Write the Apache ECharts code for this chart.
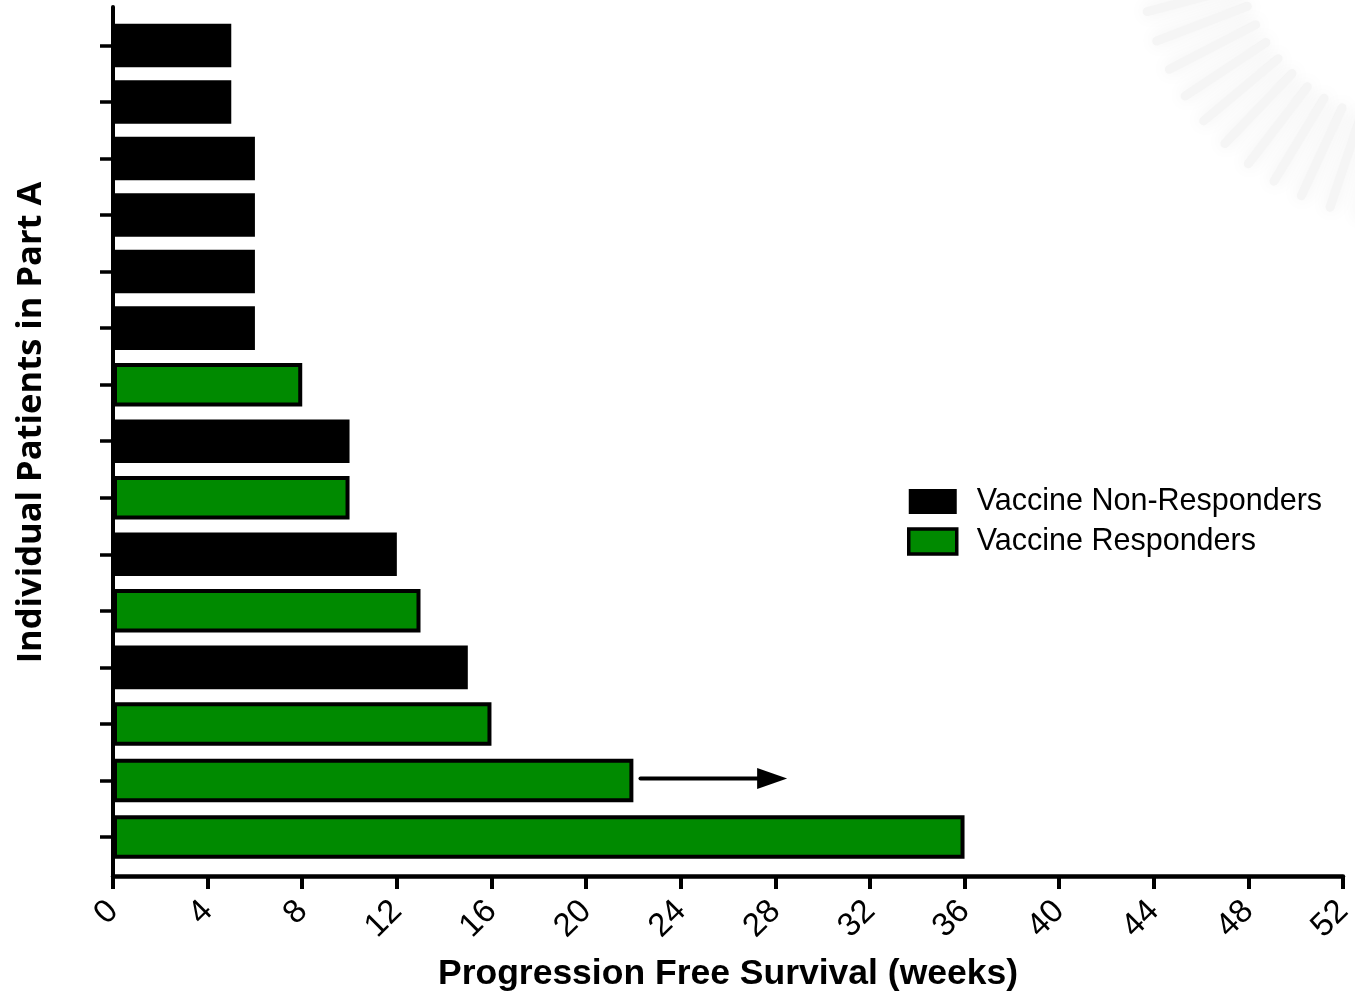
<!DOCTYPE html>
<html>
<head>
<meta charset="utf-8">
<script src="https://cdn.jsdelivr.net/npm/echarts@6/dist/echarts.min.js"></script>
<style>
  html, body { margin: 0; padding: 0; background: #fff; }
  #chart { width: 1355px; height: 993px; }
</style>
</head>
<body>
<div id="chart"></div>
<script>
// Progression-free survival per patient, listed top to bottom
const patientRows = [1, 2, 3, 4, 5, 6, 7, 8, 9, 10, 11, 12, 13, 14, 15];
const pfsWeeks    = [5, 5, 6, 6, 6, 6, 8, 10, 10, 12, 13, 15, 16, 22, 36];
const responder   = [0, 0, 0, 0, 0, 0, 1, 0, 1, 0, 1, 0, 1, 1, 1];
const weekTicks   = [0, 4, 8, 12, 16, 20, 24, 28, 32, 36, 40, 44, 48, 52];
const seriesNames = ['Vaccine Non-Responders', 'Vaccine Responders'];
// Ongoing response: arrow after the 22-week patient
const arrowRow  = 14;
const arrowFrom = 22.3;
const arrowTo   = 28.5;

const GREEN = '#008a00';
const BAR_FRACTION = 0.77;

function rowsFor(flag) {
  const out = [];
  patientRows.forEach((r, i) => {
    if (responder[i] === flag) out.push([pfsWeeks[i], r]);
  });
  return out;
}

function barRenderer(outlined) {
  return function (params, api) {
    const v = api.value(0);
    const row = api.value(1);
    const start = api.coord([0, row]);
    const end = api.coord([v, row]);
    const h = api.size([0, 1])[1] * BAR_FRACTION;
    const inset = outlined ? 2 : 0;
    return {
      type: 'rect',
      shape: {
        x: start[0] + inset,
        y: start[1] - h / 2 + inset,
        width: end[0] - start[0] - 2 * inset,
        height: h - 2 * inset
      },
      style: outlined
        ? { fill: GREEN, stroke: '#000', lineWidth: 4 }
        : { fill: '#000' }
    };
  };
}

// Faint radial emblem in the top-right corner
const rays = [];
for (let a = 96; a <= 186; a += 6.3) {
  const rad = a * Math.PI / 180;
  const cx = 1420, cy = -60, r0 = 185, r1 = 282;
  rays.push({
    type: 'line',
    silent: true,
    shape: {
      x1: cx + Math.cos(rad) * r0, y1: cy + Math.sin(rad) * r0,
      x2: cx + Math.cos(rad) * r1, y2: cy + Math.sin(rad) * r1
    },
    style: { stroke: '#f5f5f5', lineWidth: 9, lineCap: 'round', shadowBlur: 18, shadowColor: '#eeeeee' },
    z: -10
  });
}

const chart = echarts.init(document.getElementById('chart'), null, { renderer: 'canvas' });

chart.setOption({
  animation: false,
  backgroundColor: '#fff',
  graphic: rays,
  grid: { left: 113, right: 12, top: 7, bottom: 117, containLabel: false, outerBoundsMode: 'none' },
  legend: {
    orient: 'vertical',
    left: 907,
    top: 486,
    padding: 0,
    itemWidth: 48,
    itemHeight: 25,
    itemGap: 9,
    icon: 'rect',
    textStyle: {
      fontFamily: 'Liberation Sans, Arial, sans-serif',
      fontSize: 30.5,
      color: '#000',
      padding: [0, 0, 0, 15]
    },
    data: [
      { name: seriesNames[0], itemStyle: { color: '#000', borderWidth: 0 } },
      { name: seriesNames[1], itemStyle: { color: GREEN, borderColor: '#000', borderWidth: 3.5 } }
    ]
  },
  xAxis: {
    type: 'value',
    min: weekTicks[0],
    max: weekTicks[weekTicks.length - 1],
    interval: weekTicks[1] - weekTicks[0],
    name: 'Progression Free Survival (weeks)',
    nameLocation: 'middle',
    nameGap: 80,
    nameTextStyle: {
      fontFamily: 'Liberation Sans, Arial, sans-serif',
      fontWeight: 'bold',
      fontSize: 35.5,
      color: '#000'
    },
    axisLine: { show: true, onZero: false, lineStyle: { color: '#000', width: 4.5 } },
    axisTick: { show: true, length: 13, lineStyle: { color: '#000', width: 4 } },
    axisLabel: {
      rotate: 45,
      margin: 30,
      fontFamily: 'Liberation Sans, Arial, sans-serif',
      fontSize: 33,
      color: '#000'
    },
    splitLine: { show: false }
  },
  yAxis: {
    type: 'value',
    inverse: true,
    min: 0.32,
    max: 15.69,
    name: 'Individual Patients in Part A',
    nameLocation: 'middle',
    nameGap: 64,
    nameTextStyle: {
      fontFamily: 'Open Sans, sans-serif',
      fontWeight: 'bold',
      fontSize: 34.5,
      color: '#000',
      padding: [0, 0, 0, 38]
    },
    axisLine: { show: true, onZero: false, lineStyle: { color: '#000', width: 4 } },
    axisTick: { show: true, length: 13, customValues: patientRows, lineStyle: { color: '#000', width: 3.5 } },
    axisLabel: { show: false },
    splitLine: { show: false }
  },
  series: [
    {
      name: seriesNames[0],
      type: 'custom',
      itemStyle: { color: '#000' },
      renderItem: barRenderer(false),
      encode: { x: 0, y: 1 },
      data: rowsFor(0),
      z: 2
    },
    {
      name: seriesNames[1],
      type: 'custom',
      itemStyle: { color: GREEN, borderColor: '#000', borderWidth: 3.5 },
      renderItem: barRenderer(true),
      encode: { x: 0, y: 1 },
      data: rowsFor(1),
      z: 2
    },
    {
      name: 'arrow',
      type: 'custom',
      silent: true,
      renderItem: function (params, api) {
        const a = api.coord([api.value(0), api.value(2)]);
        const b = api.coord([api.value(1), api.value(2)]);
        const headLen = 30, headHalf = 10.5;
        return {
          type: 'group',
          children: [
            {
              type: 'line',
              shape: { x1: a[0], y1: a[1] - 2, x2: b[0] - headLen + 2, y2: b[1] - 2 },
              style: { stroke: '#000', lineWidth: 4, lineCap: 'round' }
            },
            {
              type: 'polygon',
              shape: { points: [[b[0] - headLen, b[1] - 2 - headHalf], [b[0], b[1] - 2], [b[0] - headLen, b[1] - 2 + headHalf]] },
              style: { fill: '#000' }
            }
          ]
        };
      },
      encode: { x: [0, 1], y: 2 },
      data: [[arrowFrom, arrowTo, arrowRow]],
      z: 3
    }
  ]
});
</script>
</body>
</html>
